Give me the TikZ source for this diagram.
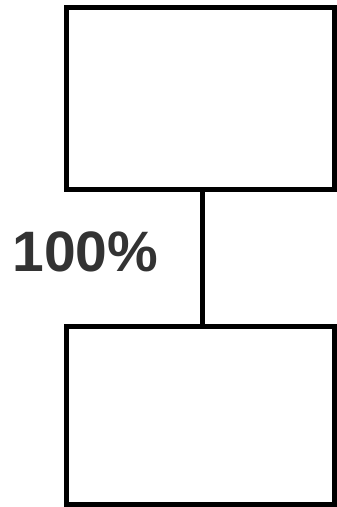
\documentclass[tikz,border=0pt]{standalone}
\usepackage{fontspec}
\setmainfont{Liberation Sans}
\definecolor{txtgray}{HTML}{333333}
\begin{document}
\begin{tikzpicture}[x=1pt,y=-1pt,
  box/.style={draw=black,line width=5pt,fill=white,minimum width=268pt,inner sep=0pt,outer sep=0pt},
  conn/.style={draw=black,line width=4.5pt}]
\useasboundingbox (0,0) rectangle (337,507);
\node[box,minimum height=182pt] (top) at (200.5,98.5) {};
\node[box,minimum height=178pt] (bot) at (200.5,415) {};
\draw[conn] ([xshift=1.8pt]top.south) -- ([xshift=1.8pt]bot.north);
\node[anchor=base,inner sep=0pt,text=txtgray,font=\fontsize{57pt}{60pt}\selectfont\bfseries] (lbl) at (85.5,271.7) {100\%};
\end{tikzpicture}
\end{document}
